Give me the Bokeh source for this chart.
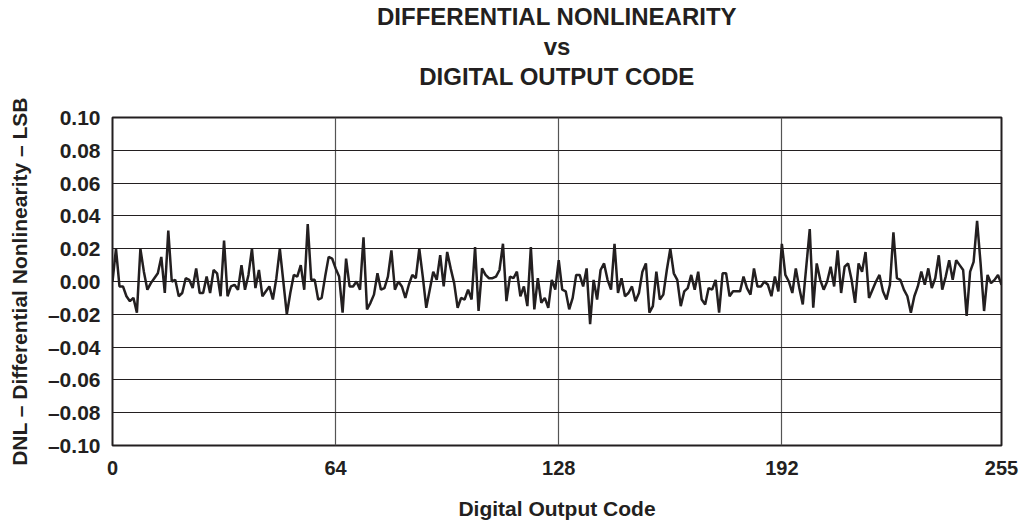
from bokeh.plotting import figure
from bokeh.models import Range1d, FixedTicker, Title
from bokeh.embed import file_html
from bokeh.resources import INLINE

# ---- data ----
codes = list(range(256))
dnl = [
    0.000, 0.020, -0.003, -0.003, -0.009, -0.012, -0.010, -0.019, 0.020, 0.006,
    -0.005, -0.001, 0.002, 0.005, 0.015, -0.007, 0.031, 0.000, 0.001, -0.009,
    -0.007, 0.002, 0.001, -0.004, 0.008, -0.007, -0.007, 0.003, -0.007, 0.007,
    0.005, -0.009, 0.025, -0.009, -0.003, -0.002, -0.005, 0.010, -0.005, 0.004,
    0.020, -0.004, 0.007, -0.009, -0.006, -0.003, -0.011, 0.002, 0.020, 0.000,
    -0.020, -0.007, 0.004, 0.003, 0.010, -0.005, 0.035, 0.001, 0.001, -0.011,
    -0.010, 0.003, 0.015, 0.014, 0.008, 0.003, -0.019, 0.014, -0.003, -0.003,
    0.000, -0.005, 0.027, -0.017, -0.013, -0.008, 0.005, -0.005, -0.004, 0.003,
    0.019, -0.005, 0.000, -0.003, -0.010, -0.002, 0.004, 0.002, 0.020, 0.003,
    -0.016, -0.005, 0.006, 0.001, 0.016, -0.003, 0.018, 0.008, -0.001, -0.016,
    -0.010, -0.011, -0.005, -0.011, 0.021, -0.018, 0.008, 0.004, 0.002, 0.002,
    0.003, 0.007, 0.023, -0.012, 0.003, 0.002, 0.006, -0.009, -0.003, -0.015,
    0.021, -0.017, 0.002, -0.013, -0.010, -0.016, 0.001, -0.005, 0.013, -0.005,
    -0.006, -0.017, -0.010, 0.004, 0.004, -0.003, 0.008, -0.026, 0.001, -0.011,
    0.007, 0.011, 0.001, -0.005, 0.023, -0.007, 0.002, -0.009, -0.007, -0.003,
    -0.012, -0.007, 0.006, 0.011, -0.019, -0.015, 0.006, -0.011, -0.008, 0.007,
    0.020, 0.005, 0.001, -0.015, -0.006, -0.004, 0.004, -0.005, 0.006, -0.011,
    -0.014, -0.004, -0.005, 0.001, -0.019, 0.005, 0.005, -0.009, -0.006, -0.006,
    -0.006, 0.003, -0.004, -0.008, 0.008, -0.003, -0.003, 0.000, -0.002, -0.009,
    0.003, -0.006, 0.023, 0.004, 0.000, -0.007, 0.008, -0.004, -0.014, 0.009,
    0.032, -0.016, 0.011, 0.001, -0.005, 0.000, 0.009, -0.003, 0.019, -0.007,
    0.009, 0.011, 0.001, -0.013, 0.011, 0.006, 0.018, -0.010, -0.005, 0.000,
    0.004, -0.006, -0.011, -0.002, 0.030, 0.002, 0.001, -0.005, -0.009, -0.019,
    -0.009, -0.003, 0.006, -0.002, 0.008, -0.004, 0.002, 0.016, -0.005, 0.003,
    0.013, 0.001, 0.013, 0.010, 0.007, -0.021, 0.006, 0.012, 0.037, 0.011,
    -0.018, 0.004, -0.001, 0.001, 0.004, -0.002,
]
x_ticks = [0, 64, 128, 192, 255]
x_tick_labels = ["0", "64", "128", "192", "255"]
y_ticks = [-0.10, -0.08, -0.06, -0.04, -0.02, 0.0, 0.02, 0.04, 0.06, 0.08, 0.10]
y_tick_labels = ["\u20130.10", "\u20130.08", "\u20130.06", "\u20130.04", "\u20130.02",
                 "0.00", "0.02", "0.04", "0.06", "0.08", "0.10"]
title_lines = ["DIFFERENTIAL NONLINEARITY", "vs", "DIGITAL OUTPUT CODE"]
x_label = "Digital Output Code"
y_label = "DNL \u2013 Differential Nonlinearity \u2013 LSB"

FONT = "Liberation Sans"
INK = "#231f20"

p = figure(width=1023, height=525, output_backend="svg", toolbar_location=None,
           x_range=Range1d(0, 255), y_range=Range1d(-0.10, 0.10),
           min_border_left=112, min_border_right=22,
           min_border_top=117, min_border_bottom=80, title=None)

p.line(codes, dnl, line_color=INK, line_width=2.5)

p.background_fill_color = "white"
p.border_fill_color = "white"
p.outline_line_color = INK
p.outline_line_width = 2
p.outline_line_alpha = 1.0

for ax in (p.xaxis, p.yaxis):
    ax.axis_line_color = None
    ax.major_tick_line_color = None
    ax.minor_tick_line_color = None
    ax.major_tick_out = 0
    ax.major_tick_in = 0
    ax.major_label_text_font = FONT
    ax.major_label_text_font_style = "bold"
    ax.major_label_text_color = INK
    ax.axis_label_text_font = FONT
    ax.axis_label_text_font_style = "bold"
    ax.axis_label_text_font_size = "21px"
    ax.axis_label_text_color = INK

p.xaxis.major_label_text_font_size = "20px"
p.yaxis.major_label_text_font_size = "21px"
p.xaxis.ticker = FixedTicker(ticks=x_ticks)
p.xaxis.major_label_overrides = dict(zip(x_ticks, x_tick_labels))
p.yaxis.ticker = FixedTicker(ticks=y_ticks)
p.yaxis.major_label_overrides = dict(zip(y_ticks, y_tick_labels))
p.xaxis.major_label_standoff = 15
p.yaxis.major_label_standoff = 12
p.xaxis.axis_label = x_label
p.yaxis.axis_label = y_label
p.xaxis.axis_label_standoff = 19
p.yaxis.axis_label_standoff = 14

p.ygrid.grid_line_color = INK
p.ygrid.grid_line_width = 1
p.xgrid.grid_line_color = "#555555"
p.xgrid.grid_line_width = 1.2

# spacer between the frame and the title block
p.add_layout(Title(text="\u00a0", text_font_size="1px", standoff=24), "above")
# title lines: first added sits nearest the frame
for t in reversed(title_lines):
    p.add_layout(Title(text=t, align="center", standoff=1,
                       text_font=FONT, text_font_style="bold",
                       text_font_size="24px", text_color=INK),
                 "above")

open("out.html", "w").write(file_html(p, INLINE))
